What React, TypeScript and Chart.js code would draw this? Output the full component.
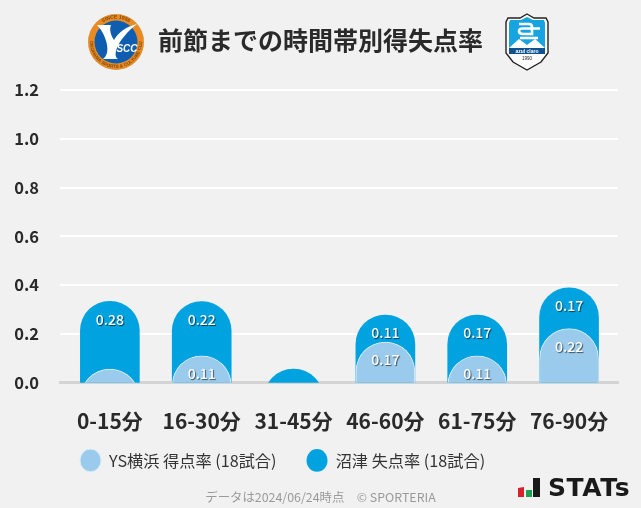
import React, { useEffect, useRef } from "react";
import { Chart, registerables } from "chart.js";

Chart.register(...registerables);

const categories = ["0-15分", "16-30分", "31-45分", "46-60分", "61-75分", "76-90分"];
const homeValues = [0.056, 0.111, 0, 0.167, 0.111, 0.222];
const awayValues = [0.278, 0.222, 0.056, 0.111, 0.167, 0.167];
const yTicks = [0, 0.2, 0.4, 0.6, 0.8, 1.0, 1.2];
const homeLabel = "YS横浜 得点率 (18試合)";
const awayLabel = "沼津 失点率 (18試合)";
const titleText = "前節までの時間帯別得失点率";
const footerText = "データは2024/06/24時点\u3000© SPORTERIA";
const FONT = '"Noto Sans CJK JP", "Noto Sans", sans-serif';
const HIDDEN_BASE = -0.5;
const LABEL_MIN = 0.1;

const barLabels = {
  id: "barLabels",
  afterDraw(chart: any) {
    const { ctx } = chart;
    const y = chart.scales.y;
    const x = chart.scales.x;
    ctx.save();
    ctx.font = `500 14px ${FONT}`;
    ctx.textAlign = "center";
    ctx.textBaseline = "middle";
    ctx.fillStyle = "#ffffff";
    ctx.shadowColor = "rgba(0,0,0,0.6)";
    ctx.shadowBlur = 1;
    ctx.shadowOffsetX = 1;
    ctx.shadowOffsetY = 1;
    homeValues.forEach((h, i) => {
      const a = awayValues[i];
      if (h >= LABEL_MIN) ctx.fillText(h.toFixed(2), x.getPixelForValue(i), y.getPixelForValue(h) + 18);
      if (a >= LABEL_MIN) ctx.fillText(a.toFixed(2), x.getPixelForValue(i), y.getPixelForValue(h + a) + 18);
    });
    ctx.restore();
  },
};

const legendOffset = {
  id: "legendOffset",
  afterLayout(chart: any) {
    chart.legend.left = 50;
    chart.legend.top -= 18.5;
  },
};

function YsLogo() {
  return (
    <svg width="58" height="58" viewBox="0 0 58 58" style={{ position: "absolute", left: 87, top: 13 }}>
      <defs>
        <path id="ysTop" d="M29 29 m-23.5 0 a23.5 23.5 0 0 1 47 0" />
        <path id="ysBottom" d="M29 29 m-26 0 a26 26 0 0 0 52 0" />
      </defs>
      <circle cx="29" cy="29" r="28" fill="#b9b29c" />
      <circle cx="29" cy="29" r="24.5" fill="none" stroke="#ec8a22" strokeWidth="6.5" />
      <circle cx="29" cy="29" r="21.5" fill="#0f5db0" />
      <text fontSize="5" fontWeight="700" fill="#7a4a10" fontFamily="Liberation Sans">
        <textPath href="#ysTop" startOffset="50%" textAnchor="middle">SINCE 1986</textPath>
      </text>
      <text fontSize="4.6" fontWeight="700" fill="#7a4a10" fontFamily="Liberation Sans">
        <textPath href="#ysBottom" startOffset="50%" textAnchor="middle">YOKOHAMA SPORTS &amp; CULTURE CLUB</textPath>
      </text>
      <path d="M10 12 L24 12 C22 16 24 23 27 27 C31 20 38 14 50 11 C41 18 33 27 30 35 C28 40 28 44 31 46 L16 46 C20 43 21 38 20 32 C19 25 15 17 10 12 Z" fill="#ffffff" />
      <text x="40" y="39" fontSize="10" fontStyle="italic" fontWeight="700" fill="#ffffff" textAnchor="middle" fontFamily="Liberation Sans">SCC</text>
    </svg>
  );
}

function AzulLogo() {
  return (
    <svg width="44" height="58" viewBox="0 0 44 58" style={{ position: "absolute", left: 505, top: 13 }}>
      <path d="M22 1 L29 5 L41 5 L43 9 L43 40 L36 49 L22 57 L8 49 L1 40 L1 9 L3 5 L15 5 Z" fill="#ffffff" stroke="#222222" strokeWidth="1.4" />
      <path d="M22 4 L28 7 L39 7 L40 10 L40 35 L4 35 L4 10 L5 7 L16 7 Z" fill="#18a4e0" />
      <path d="M4 35 L14 26 L22 32 L30 26 L40 35 Z" fill="#ffffff" />
      <path d="M14 11 L24 11 Q27 11 27 14 L27 21 L18 21 Q14 21 14 18 Q14 15.5 18 15.5 L35 15.5 M15 25 L33 25" fill="none" stroke="#ffffff" strokeWidth="2.6" />
      <rect x="4" y="35" width="36" height="6" fill="#10528f" />
      <text x="22" y="40" fontSize="5" fontWeight="700" fill="#ffffff" textAnchor="middle" fontFamily="Liberation Sans">azul claro</text>
      <text x="22" y="47" fontSize="4.5" fill="#222222" textAnchor="middle" fontFamily="Liberation Sans">1990</text>
    </svg>
  );
}

export default function App() {
  const ref = useRef<HTMLCanvasElement>(null);
  useEffect(() => {
    document.body.style.margin = "0";
    document.body.style.background = "#f1f1f1";
    const totals = homeValues.map((h, i) => h + awayValues[i]);
    const chart = new Chart(ref.current!, {
      type: "bar",
      data: {
        datasets: [
          {
            label: homeLabel,
            data: homeValues.map((v, i) => ({ x: i, y: v > 0 ? [HIDDEN_BASE, v] : null })) as any,
            backgroundColor: "#9bcbec",
            borderColor: "#d8ecf8",
            borderWidth: 1,
            borderSkipped: false,
            borderRadius: 30,
            barThickness: 59,
            order: 1,
          } as any,
          {
            label: awayLabel,
            data: totals.map((v, i) => ({ x: i, y: [HIDDEN_BASE, v] })) as any,
            backgroundColor: "#00a3e0",
            borderWidth: 0,
            borderSkipped: false,
            borderRadius: 30,
            barThickness: 59,
            order: 2,
          } as any,
        ],
      },
      plugins: [barLabels, legendOffset],
      options: {
        responsive: false,
        animation: false,
        layout: { padding: { left: 0, right: 0, top: 0, bottom: 11 } },
        scales: {
          x: {
            type: "linear",
            stacked: true,
            offset: false,
            min: -0.543,
            max: 5.533,
            afterBuildTicks: (s: any) => { s.ticks = categories.map((_, value) => ({ value })); },
            afterFit: (s: any) => { s.height = 58; },
            grid: { display: false },
            border: { color: "#d4d4d4", width: 3 },
            ticks: {
              color: "#2a2a2a",
              autoSkip: false,
              maxRotation: 0,
              font: { family: FONT, size: 21, weight: "bold" },
              padding: 18,
              callback: (v: any) => categories[v],
            },
          },
          y: {
            min: 0,
            max: 1.2,
            afterFit: (s: any) => { s.width = 60; },
            afterBuildTicks: (s: any) => { s.ticks = yTicks.map((value) => ({ value })); },
            grid: { color: "#ffffff", lineWidth: 2, drawTicks: false },
            border: { display: false },
            ticks: {
              color: "#2a2a2a",
              padding: 21,
              font: { family: FONT, size: 16.5, weight: "bold" },
              callback: (v: any) => Number(v).toFixed(1),
            },
          },
          yEdge: {
            position: "right",
            afterFit: (s: any) => { s.width = 23; },
            grid: { display: false },
            border: { display: false },
            ticks: { display: false },
          },
        },
        plugins: {
          tooltip: { enabled: false },
          title: {
            display: true,
            text: titleText,
            color: "#2a2a2a",
            font: { family: FONT, size: 25, weight: "bold" },
            padding: { top: 25, bottom: 35 },
          },
          legend: {
            position: "bottom",
            align: "start",
            labels: {
              color: "#333333",
              usePointStyle: true,
              pointStyle: "circle",
              boxHeight: 16,
              pointStyleWidth: 21,
              font: { family: FONT, size: 16.2 },
              padding: 30,
            },
          },
        },
      } as any,
    });
    return () => chart.destroy();
  }, []);
  return (
    <div style={{ position: "fixed", left: 0, top: 0, width: 641, height: 508, background: "#f1f1f1", overflow: "hidden" }}>
      <canvas ref={ref} width={641} height={508} style={{ display: "block" }} />
      <YsLogo />
      <AzulLogo />
      <div style={{ position: "absolute", left: 0, width: 641, top: 488, textAlign: "center", fontFamily: FONT, fontSize: 12.4, lineHeight: "18px", color: "#9a9a9a", whiteSpace: "pre" }}>{footerText}</div>
      <svg width="24" height="22" viewBox="0 0 24 22" style={{ position: "absolute", left: 517, top: 477 }}>
        <path d="M1 11 L7 10 L7 20 L1 20 Z" fill="#d8212a" />
        <rect x="9" y="13" width="6" height="7" fill="#1ea04c" />
        <rect x="16" y="1" width="7" height="19" fill="#1a1a1a" />
      </svg>
      <div style={{ position: "absolute", left: 548, top: 472, fontFamily: '"DejaVu Sans"', fontWeight: 700, fontSize: 25, letterSpacing: 0.6, lineHeight: "32px", color: "#1a1a1a" }}>STATs</div>
    </div>
  );
}
